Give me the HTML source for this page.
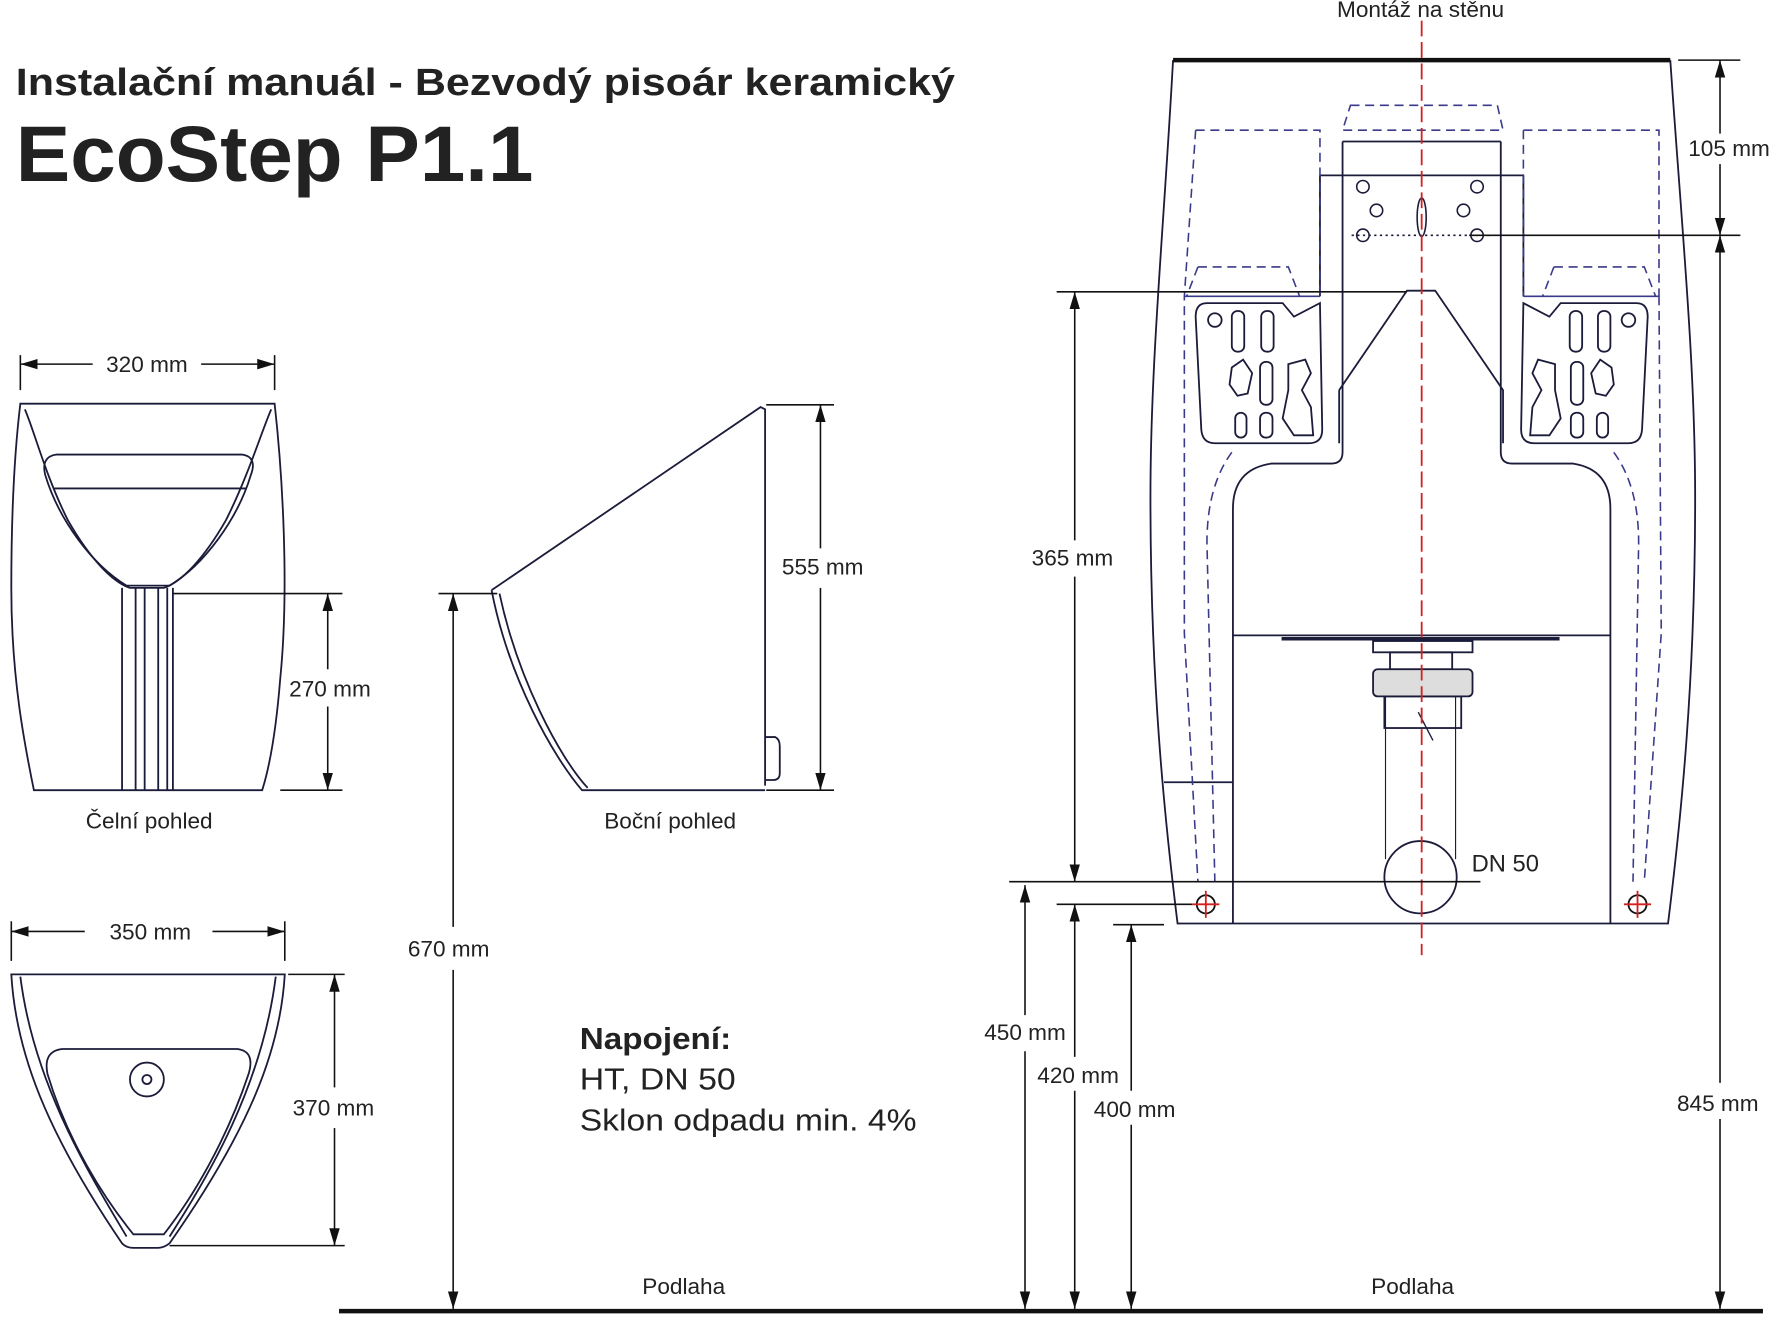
<!DOCTYPE html>
<html><head><meta charset="utf-8"><style>
html,body{margin:0;padding:0;background:#fff;}
svg{display:block;}
text{font-family:"Liberation Sans",sans-serif;fill:#222;}
</style></head><body>
<svg width="1772" height="1334" viewBox="0 0 1568 1180" xmlns="http://www.w3.org/2000/svg">
<defs>
<marker id="a" viewBox="0 0 10 10" refX="10" refY="5" markerWidth="11" markerHeight="11" orient="auto-start-reverse"><path d="M0,2 L10,5 L0,8 z" fill="#111"/></marker>
</defs>
<!-- Titles -->
<text x="14" y="84" font-size="34" font-weight="bold" fill="#1a1a1a" textLength="831" lengthAdjust="spacingAndGlyphs">Instalační manuál - Bezvodý pisoár keramický</text>
<text x="14" y="160" font-size="70" font-weight="bold" fill="#1a1a1a" textLength="458" lengthAdjust="spacingAndGlyphs">EcoStep P1.1</text>

<g stroke="#1b1b3a" fill="none" stroke-width="1.6">
<!-- Front view -->
<path d="M18,357 L243,357 C250,420 256,520 248,600 C244,650 238,680 232,699 L30,699 C22,660 10,600 10,520 C10,440 14,390 18,357 Z"/>
<path d="M22,362 C30,380 40,420 60,460 C80,495 100,515 115,520 L145,520 C160,515 180,495 200,460 C220,420 232,380 240,362"/>
<path d="M50,402 L214,402 Q228,404 222,420 C210,460 180,500 150,518 L112,518 C82,500 52,460 40,420 Q36,404 50,402 Z"/>
<path d="M48,432 L218,432"/>
<path d="M108,520 L108,699 M120,520 L120,699 M128,520 L128,699 M140,520 L140,699 M148,520 L148,699 M153,520 L153,699"/>
<!-- Side view -->
<path d="M435,522 L673,360 L677,362 L677,695 M435,522 C450,600 490,670 515,699 L677,699"/>
<path d="M442,525 C458,600 495,670 520,697"/>
<path d="M677,652 L686,652 Q690,654 690,660 L690,684 Q690,690 684,690 L677,690"/>
<!-- Top view -->
<path d="M10,862 L252,862 C248,930 220,1000 150,1100 Q145,1104 140,1104 L118,1104 Q112,1104 108,1100 C40,1000 14,930 10,862 Z"/>
<path d="M18,864 C30,960 80,1040 112,1094 M244,864 C232,960 185,1040 150,1094"/>
<path d="M55,928 L210,928 Q226,930 220,950 C200,1010 170,1060 145,1092 L118,1092 C92,1060 60,1010 42,950 Q38,930 55,928 Z"/>
<circle cx="130" cy="955" r="15"/>
<circle cx="130" cy="955" r="4"/>
<!-- Right assembly -->
<path d="M1038,53 C1030,200 1018,320 1018,440 C1018,600 1030,720 1042,817 L1476,817 C1488,720 1500,600 1500,440 C1500,320 1488,200 1478,53"/>
<path d="M1188,125 L1328,125 M1188,125 L1188,400 Q1188,410 1178,410 L1125,410 Q1091,415 1091,450 L1091,817 M1328,125 L1328,400 Q1328,410 1338,410 L1392,410 Q1425,415 1425,450 L1425,817"/>
<path d="M1168,155 L1348,155 M1168,155 L1168,262 M1348,155 L1348,262"/>
<path d="M1185,345 L1245,257 L1270,257 L1330,345 L1330,392 M1185,345 L1185,392"/>
<path d="M1091,562 L1425,562"/>
<path d="M1030,692 L1091,692"/>
<!-- plates -->
<path d="M1068,268 L1135,268 L1145,280 L1168,268 L1170,380 Q1170,392 1158,392 L1075,392 Q1064,392 1063,380 L1058,280 Q1058,268 1068,268 Z"/>
<path d="M1448,268 L1381,268 L1371,280 L1348,268 L1346,380 Q1346,392 1358,392 L1441,392 Q1452,392 1453,380 L1458,280 Q1458,268 1448,268 Z"/>
<circle cx="1075" cy="283" r="6"/><circle cx="1441" cy="283" r="6"/>
<rect x="1090" y="275" width="11" height="36" rx="5"/><rect x="1116" y="275" width="11" height="36" rx="5"/>
<rect x="1389" y="275" width="11" height="36" rx="5"/><rect x="1414" y="275" width="11" height="36" rx="5"/>
<path d="M1090,325 L1100,318 L1108,330 L1104,348 L1095,350 L1088,340 Z"/>
<path d="M1426,325 L1416,318 L1408,330 L1412,348 L1421,350 L1428,340 Z"/>
<rect x="1115" y="320" width="11" height="38" rx="5"/><rect x="1390" y="320" width="11" height="38" rx="5"/>
<rect x="1093" y="365" width="10" height="22" rx="5"/><rect x="1413" y="365" width="10" height="22" rx="5"/>
<rect x="1115" y="365" width="11" height="22" rx="5"/><rect x="1390" y="365" width="11" height="22" rx="5"/>
<path d="M1140,322 L1155,318 L1160,330 L1152,345 L1160,360 L1162,385 L1145,385 L1135,370 L1140,345 Z"/>
<path d="M1376,322 L1361,318 L1356,330 L1364,345 L1356,360 L1354,385 L1371,385 L1381,370 L1376,345 Z"/>
<!-- pipe -->
<path d="M1134,565 L1380,565" stroke-width="3"/>
<rect x="1215" y="567" width="88" height="10"/>
<rect x="1230" y="577" width="55" height="15"/>
<rect x="1215" y="592" width="88" height="24" rx="4" fill="#ddd"/>
<rect x="1225" y="616" width="68" height="28"/>
<path d="M1226,616 L1226,760 M1288,616 L1288,760" stroke-width="1"/>
<path d="M1255,630 L1268,655" stroke-width="1.2"/>
<circle cx="1257" cy="776" r="32"/>
</g>

<!-- dashed blue -->
<g stroke="#3a3a8a" fill="none" stroke-width="1.4" stroke-dasharray="8,5">
<path d="M1058,115 L1168,115 L1168,262 M1058,115 L1048,262 L1048,560 L1060,780"/>
<path d="M1348,115 L1468,115 L1468,262 M1348,115 L1348,262 M1468,262 L1470,560 L1455,780"/>
<path d="M1195,93 L1325,93 L1330,115 L1188,115 Z"/>
<path d="M1060,236 L1140,236 L1150,262 M1060,236 L1050,262 M1375,236 L1455,236 L1465,262 M1375,236 L1365,262"/>
<path d="M1090,400 Q1068,430 1068,480 L1075,780 M1428,400 Q1450,430 1450,480 L1445,780"/>
</g>
<path d="M1048,262 L1168,262 M1348,262 L1468,262" stroke="#3a3a8a" stroke-width="1.4"/>

<path d="M1038,53 L1478,53" stroke="#111" stroke-width="4"/>
<g stroke="#1b1b3a" fill="none" stroke-width="1.4">
<circle cx="1206" cy="165" r="5.5"/><circle cx="1307" cy="165" r="5.5"/>
<circle cx="1218" cy="186" r="5.5"/><circle cx="1295" cy="186" r="5.5"/>
<circle cx="1206" cy="208" r="5.5"/><circle cx="1307" cy="208" r="5.5"/>
<ellipse cx="1258" cy="192" rx="4" ry="17"/>
<path d="M1196,208 L1318,208" stroke-dasharray="2,3"/>
</g>
<path d="M1258,18 L1258,845" stroke="#d42020" stroke-width="1.6" stroke-dasharray="14,5"/>
<g stroke="#d42020" stroke-width="1.6" fill="none">
<circle cx="1067" cy="800" r="8" stroke="#111"/><path d="M1055,800 L1079,800 M1067,788 L1067,812"/>
<circle cx="1449" cy="800" r="8" stroke="#111"/><path d="M1437,800 L1461,800 M1449,788 L1449,812"/>
</g>

<g stroke="#111" stroke-width="1.4" fill="none">
<path d="M18,314 L18,345 M243,314 L243,345"/>
<path d="M18,322 L82,322" marker-start="url(#a)"/><path d="M178,322 L243,322" marker-end="url(#a)"/>
<path d="M153,525 L303,525 M248,699 L303,699"/>
<path d="M290,525 L290,592" marker-start="url(#a)"/><path d="M290,625 L290,699" marker-end="url(#a)"/>
<path d="M678,358 L738,358 M678,699 L738,699"/>
<path d="M726,358 L726,485" marker-start="url(#a)"/><path d="M726,520 L726,699" marker-end="url(#a)"/>
<path d="M388,525 L440,525"/>
<path d="M401,525 L401,820" marker-start="url(#a)"/><path d="M401,858 L401,1158" marker-end="url(#a)"/>
<path d="M10,815 L10,850 M252,815 L252,850"/>
<path d="M10,824 L75,824" marker-start="url(#a)"/><path d="M188,824 L252,824" marker-end="url(#a)"/>
<path d="M255,862 L305,862 M150,1102 L305,1102"/>
<path d="M296,862 L296,962" marker-start="url(#a)"/><path d="M296,998 L296,1102" marker-end="url(#a)"/>
<path d="M1485,53 L1540,53 M1300,208 L1540,208"/>
<path d="M1522,53 L1522,118" marker-start="url(#a)"/><path d="M1522,145 L1522,208" marker-end="url(#a)"/>
<path d="M1522,208 L1522,958" marker-start="url(#a)"/><path d="M1522,990 L1522,1158" marker-end="url(#a)"/>
<path d="M935,258 L1245,258 M893,780 L1310,780"/>
<path d="M951,258 L951,478" marker-start="url(#a)"/><path d="M951,510 L951,780" marker-end="url(#a)"/>
<path d="M907,783 L907,898" marker-start="url(#a)"/><path d="M907,930 L907,1158" marker-end="url(#a)"/>
<path d="M935,800 L1055,800"/>
<path d="M951,800 L951,935" marker-start="url(#a)"/><path d="M951,965 L951,1158" marker-end="url(#a)"/>
<path d="M985,818 L1030,818"/>
<path d="M1001,818 L1001,965" marker-start="url(#a)"/><path d="M1001,995 L1001,1158" marker-end="url(#a)"/>
</g>
<path d="M300,1160 L1560,1160" stroke="#111" stroke-width="4"/>

<g font-size="20">
<text x="130" y="329" text-anchor="middle">320 mm</text>
<text x="292" y="616" text-anchor="middle">270 mm</text>
<text x="132" y="733" text-anchor="middle">Čelní pohled</text>
<text x="593" y="733" text-anchor="middle">Boční pohled</text>
<text x="728" y="508" text-anchor="middle">555 mm</text>
<text x="397" y="846" text-anchor="middle">670 mm</text>
<text x="133" y="831" text-anchor="middle">350 mm</text>
<text x="295" y="987" text-anchor="middle">370 mm</text>
<text x="1257" y="15" text-anchor="middle">Montáž na stěnu</text>
<text x="1530" y="138" text-anchor="middle">105 mm</text>
<text x="949" y="500" text-anchor="middle">365 mm</text>
<text x="1332" y="771" text-anchor="middle" font-size="21">DN 50</text>
<text x="907" y="920" text-anchor="middle">450 mm</text>
<text x="954" y="958" text-anchor="middle">420 mm</text>
<text x="1004" y="988" text-anchor="middle">400 mm</text>
<text x="1520" y="983" text-anchor="middle">845 mm</text>
<text x="605" y="1145" text-anchor="middle">Podlaha</text>
<text x="1250" y="1145" text-anchor="middle">Podlaha</text>
</g>
<text x="513" y="928" font-size="27" font-weight="bold" textLength="134" lengthAdjust="spacingAndGlyphs">Napojení:</text>
<text x="513" y="964" font-size="27" textLength="138" lengthAdjust="spacingAndGlyphs">HT, DN 50</text>
<text x="513" y="1000" font-size="27" textLength="298" lengthAdjust="spacingAndGlyphs">Sklon odpadu min. 4%</text>
</svg>
</body></html>
